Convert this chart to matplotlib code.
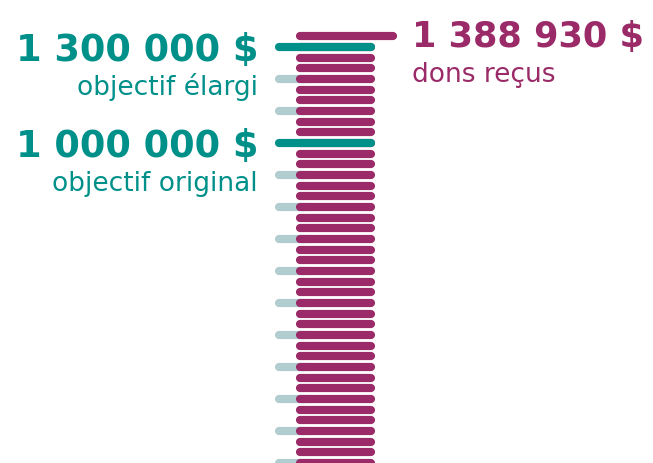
import numpy as np
import matplotlib
matplotlib.use("Agg")
import matplotlib.pyplot as plt

# données (en dollars)
dons_recus = 1388930
objectifs = [1300000, 1000000]
objectifs_noms = ["objectif élargi", "objectif original"]
pas_barre = 100000 / 3          # une barre par tranche de 33 333 $
graduations = [0, 100000, 200000, 300000, 400000, 500000, 600000,
               700000, 800000, 900000, 1100000, 1200000]

# couleurs
magenta = "#9b2a68"
sarcelle = "#00908a"
gris = "#b2cdd0"

def fmt(v):
    return f"{v:,}".replace(",", " ") + " $"

niveaux = np.arange(0, max(objectifs) + 1, pas_barre)

fig = plt.figure(figsize=(6.53, 4.63), dpi=100)
ax = fig.add_axes([0, 0, 1, 1])
ax.set_xlim(0, 653)
ax.set_ylim(0, 1446875)
ax.axis("off")

lw = 5.9  # épaisseur des barres (points)

# petites graduations grises (sous les barres)
for g in graduations:
    ax.plot([279, 310], [g, g], color=gris, lw=lw, solid_capstyle="round", zorder=1)

# pile de barres magenta
for n in niveaux:
    ax.plot([300, 371], [n, n], color=magenta, lw=lw, solid_capstyle="round", zorder=2)

# barre du total, une marche au-dessus de la pile
haut = niveaux[-1] + pas_barre
ax.plot([300, 393], [haut, haut], color=magenta, lw=lw, solid_capstyle="round", zorder=2)

# lignes des objectifs
for obj in objectifs:
    ax.plot([279, 371], [obj, obj], color=sarcelle, lw=lw, solid_capstyle="round", zorder=3)

# étiquettes des objectifs
for obj, nom in zip(objectifs, objectifs_noms):
    ax.annotate(fmt(obj), xy=(258, obj), xytext=(0, -14), textcoords="offset pixels",
                ha="right", va="baseline", fontsize=26.5, fontweight="bold", color=sarcelle)
    ax.annotate(nom, xy=(258, obj), xytext=(0, -48), textcoords="offset pixels",
                ha="right", va="baseline", fontsize=19, color=sarcelle)

# étiquette des dons
ax.annotate(fmt(dons_recus), xy=(412, haut), xytext=(0, -11), textcoords="offset pixels",
            ha="left", va="baseline", fontsize=25.3, fontweight="bold", color=magenta)
ax.annotate("dons reçus", xy=(412, haut), xytext=(0, -46), textcoords="offset pixels",
            ha="left", va="baseline", fontsize=19, color=magenta)

fig.savefig("out.png", dpi=100)
